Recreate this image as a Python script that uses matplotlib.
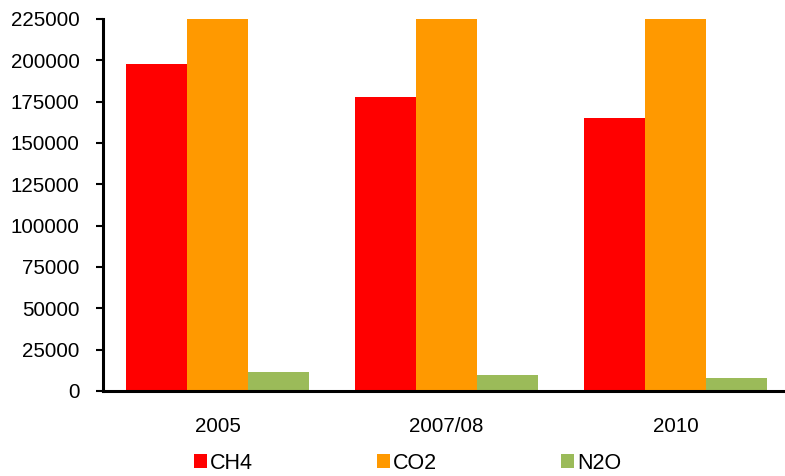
import matplotlib.pyplot as plt
import numpy as np

plt.rcParams['font.family'] = ['Liberation Sans', 'DejaVu Sans']

years = ["2005", "2007/08", "2010"]
ch4 = [197500, 177800, 165000]
co2 = [240000, 240000, 240000]   # au-dessus de l'échelle, coupé à 225000
n2o = [11500, 9700, 7900]
gaz = ["CH4", "CO2", "N2O"]
couleurs = ["#FF0000", "#FF9900", "#9BBB59"]
yticks = list(range(0, 225001, 25000))

fig = plt.figure(figsize=(7.85, 4.76), dpi=100)
ax = fig.add_axes([103 / 785, 85 / 476, 687 / 785, 372 / 476])

x = np.arange(len(years))
w = 0.8 / 3
for i, (serie, nom, c) in enumerate(zip([ch4, co2, n2o], gaz, couleurs)):
    ax.bar(x + (i - 1) * w, serie, width=w, color=c, label=nom, linewidth=0)

ax.set_xlim(-0.5, 2.5)
ax.set_ylim(0, 225000)
ax.set_yticks(yticks)
ax.set_yticklabels([str(v) for v in yticks], fontsize=14.8)
ax.set_xticks(x)
ax.set_xticklabels(years, fontsize=14.8)
ax.tick_params(axis="x", length=0, pad=19)
ax.tick_params(axis="y", length=5, width=1.5, pad=12)

for s in ["top", "right"]:
    ax.spines[s].set_visible(False)
for s in ["left", "bottom"]:
    ax.spines[s].set_linewidth(2.2)

fig.legend(loc="center", bbox_to_anchor=(0.519, 0.027), ncol=3, frameon=False,
           fontsize=15.5, handlelength=0.6, handleheight=0.6, handletextpad=0.14,
           columnspacing=5.77, borderpad=0)

plt.savefig("out.png", dpi=100)
